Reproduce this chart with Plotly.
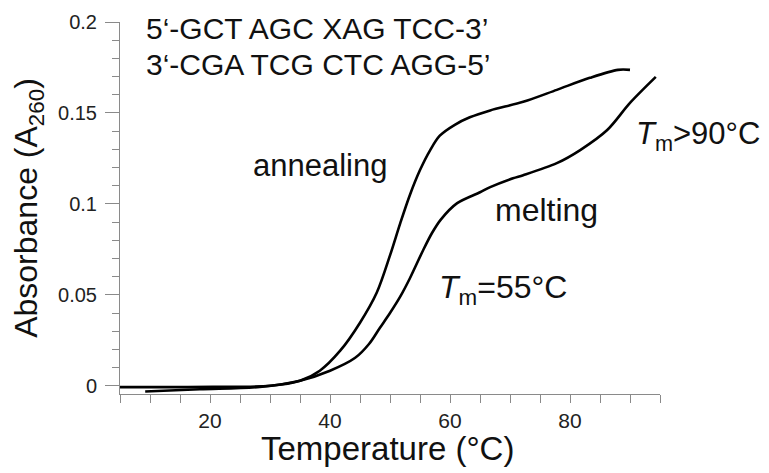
import plotly.graph_objects as go

# ---- data ----
temp_annealing = [5.0, 20.5, 30.0, 35.0, 38.3, 41.7, 45.0, 47.8, 50.0, 51.7, 53.3, 55.0,
                  56.7, 58.3, 60.8, 63.3, 66.7, 72.2, 77.8, 83.3, 88.0, 90.0]
abs_annealing = [-0.0007, -0.0006, 0.0, 0.0028, 0.0083, 0.0193, 0.0347, 0.0513, 0.0717,
                 0.0893, 0.1048, 0.1186, 0.1296, 0.1375, 0.1435, 0.1476, 0.1514, 0.1561,
                 0.1627, 0.1693, 0.1737, 0.1737]

temp_melting = [9.2, 18.3, 28.3, 35.0, 40.0, 44.2, 46.5, 48.3, 50.0, 51.7, 53.3, 55.5,
                57.0, 58.5, 61.2, 65.0, 66.7, 70.5, 72.2, 77.8, 81.7, 86.2, 90.0, 94.3]
abs_melting = [-0.0031, -0.0019, -0.0006, 0.0028, 0.0083, 0.0154, 0.0230, 0.0318, 0.0400,
               0.0490, 0.0590, 0.0744, 0.0840, 0.0915, 0.1004, 0.1064, 0.1092, 0.1141,
               0.1158, 0.1224, 0.1296, 0.1406, 0.1555, 0.1698]

x_major_values = [20, 40, 60, 80]
x_major_labels = ["20", "40", "60", "80"]
y_major_values = [0, 0.05, 0.1, 0.15, 0.2]
y_major_labels = ["0", "0.05", "0.1", "0.15", "0.2"]

x_title = "Temperature (°C)"
y_title = "Absorbance (A<sub>260</sub>)"
seq_top = "5‘-GCT AGC XAG TCC-3’"
seq_bottom = "3‘-CGA TCG CTC AGG-5’"

FONT = "Liberation Sans, Arial, Helvetica, sans-serif"
AXIS_GRAY = "#8a8a8a"
TEXT = "#111111"

fig = go.Figure()
fig.add_trace(go.Scatter(x=temp_annealing, y=abs_annealing, mode="lines", name="annealing",
                         line=dict(color="black", width=2.6, shape="spline", smoothing=0.9)))
fig.add_trace(go.Scatter(x=temp_melting, y=abs_melting, mode="lines", name="melting",
                         line=dict(color="black", width=2.6, shape="spline", smoothing=0.9)))

fig.update_layout(
    width=769, height=473,
    margin=dict(l=120, r=109, t=22, b=79, autoexpand=False),
    plot_bgcolor="white", paper_bgcolor="white",
    showlegend=False,
    font=dict(family=FONT, color=TEXT),
)

fig.update_xaxes(
    range=[5, 95], showgrid=False, zeroline=False, automargin=False,
    showline=True, linecolor=AXIS_GRAY, linewidth=1,
    ticks="outside", ticklen=8, tickcolor=AXIS_GRAY, tickwidth=1,
    tickmode="array", tickvals=x_major_values, ticktext=x_major_labels,
    minor=dict(dtick=5, tick0=0, ticks="outside", ticklen=8, tickcolor=AXIS_GRAY, tickwidth=1),
    tickfont=dict(size=21, color="#222222"), ticklabelstandoff=0,
)

fig.update_yaxes(
    range=[-0.0045, 0.2], showgrid=False, zeroline=False, automargin=False,
    showline=True, linecolor=AXIS_GRAY, linewidth=1,
    ticks="outside", ticklen=14, tickcolor=AXIS_GRAY, tickwidth=1,
    tickmode="array", tickvals=y_major_values, ticktext=y_major_labels,
    minor=dict(dtick=0.01, tick0=0, ticks="outside", ticklen=7, tickcolor=AXIS_GRAY, tickwidth=1),
    tickfont=dict(size=20, color="#222222"), ticklabelstandoff=4,
    title=dict(text=y_title, font=dict(size=32, color=TEXT), standoff=10),
)

# x-axis title placed just under the tick labels
fig.add_annotation(text=x_title, x=0.495, y=-0.146, xref="paper", yref="paper",
                   xanchor="center", yanchor="middle", showarrow=False,
                   font=dict(family=FONT, size=33, color=TEXT))

labels = [
    dict(text=seq_top, x=9.0, y=0.1965, size=30),
    dict(text=seq_bottom, x=9.0, y=0.1767, size=30),
    dict(text="annealing", x=26.8, y=0.1211, size=31),
    dict(text="melting", x=67.2, y=0.0967, size=32),
    dict(text="<i>T</i><sub>m</sub>=55°C", x=57.8, y=0.0527, size=32),
    dict(text="<i>T</i><sub>m</sub>>90°C", x=90.6, y=0.1375, size=31),
]
for lab in labels:
    fig.add_annotation(text=lab["text"], x=lab["x"], y=lab["y"], xref="x", yref="y",
                       xanchor="left", yanchor="middle", showarrow=False,
                       font=dict(family=FONT, size=lab["size"], color=TEXT))

fig.write_html(
    "out.html",
    config={"displayModeBar": False},
    post_script="document.body.style.margin='0';document.body.style.padding='0';"
                "document.documentElement.style.overflow='hidden';",
)
